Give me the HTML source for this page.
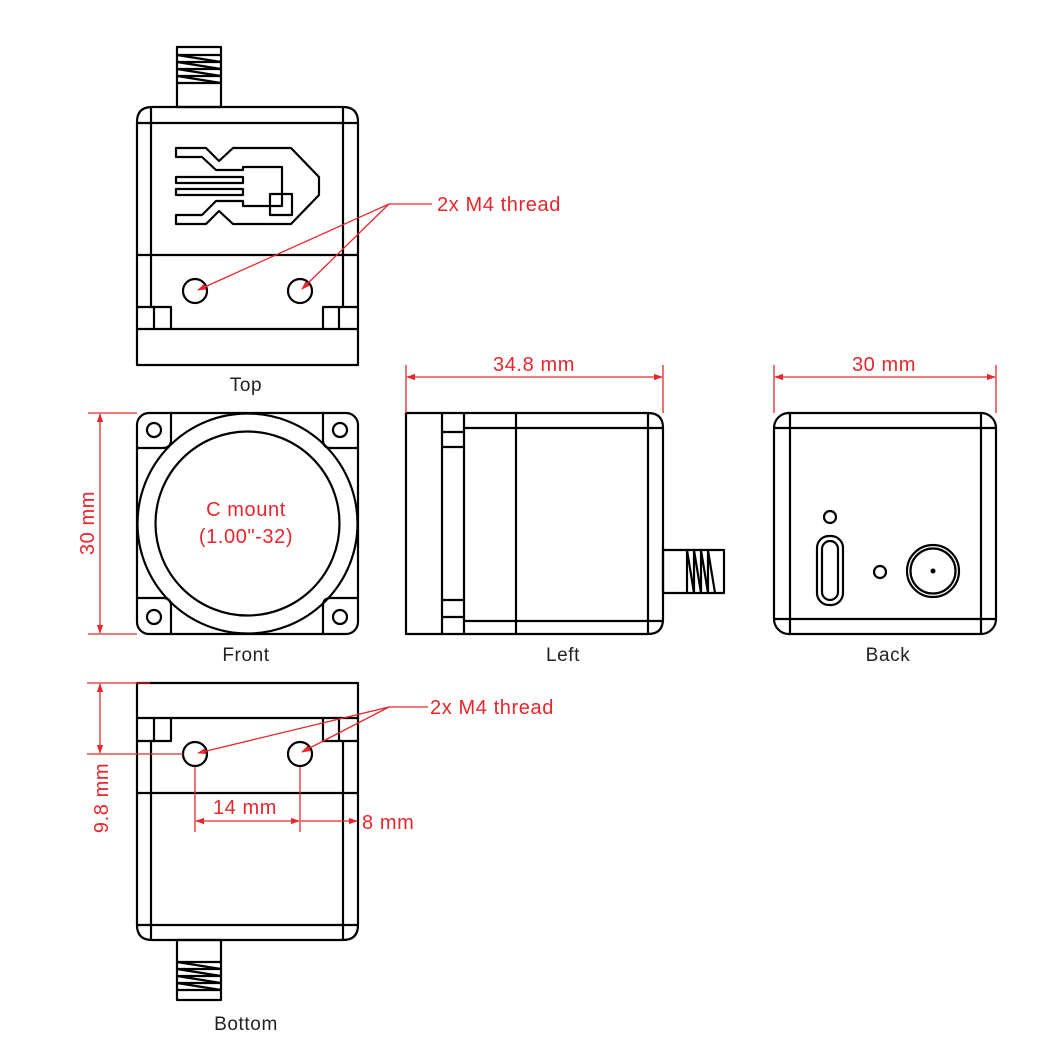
<!DOCTYPE html>
<html><head><meta charset="utf-8"><style>
html,body{margin:0;padding:0;background:#fff;}
svg{display:block}
text{font-family:"Liberation Sans","DejaVu Sans",sans-serif;letter-spacing:0.6px}
.k{fill:none;stroke:#000;stroke-width:2.2;stroke-linejoin:round}
.r{fill:none;stroke:#e8262b;stroke-width:1.3}
.rt{fill:#e8262b;font-size:20px}
.bt{fill:#222;font-size:19px}
</style></head><body>
<svg width="1054" height="1061" viewBox="0 0 1054 1061" xmlns="http://www.w3.org/2000/svg">
<defs>
<marker id="a" viewBox="0 0 10 10" refX="9" refY="5" markerWidth="9" markerHeight="9" markerUnits="userSpaceOnUse" orient="auto-start-reverse"><path d="M0,1.5 L10,5 L0,8.5 Z" fill="#e8262b"/></marker>
</defs>

<!-- TOP VIEW -->
<g class="k">
<rect x="177" y="47" width="44" height="60"/>
<line x1="177" y1="55" x2="221" y2="55"/>
<line x1="177" y1="83" x2="221" y2="83"/>
<path d="M177,55 L221,62 L177,62 L221,69 L177,69 L221,76 L177,76 L221,83"/>
<path d="M137,365 V122 Q137,107 152,107 H343 Q358,107 358,122 V365 Z"/>
<line x1="151" y1="107" x2="151" y2="307"/>
<line x1="343" y1="107" x2="343" y2="307"/>
<line x1="137" y1="123" x2="358" y2="123"/>
<line x1="137" y1="255" x2="358" y2="255"/>
<line x1="137" y1="329" x2="358" y2="329"/>
<path d="M137,307 H171 V329 M154,307 V329"/>
<path d="M358,307 H323 V329 M339,307 V329"/>
<circle cx="195" cy="291" r="12"/>
<circle cx="300" cy="291" r="12"/>
<path d="M176,148 H206 L219,161 L233,148 H291 L319,177 V195 L291,224 H233 L219,211 L206,224 H176 V215 H202 L216,201 H243 V206 H282 V167 H243 V170 H216 L202,157 H176 Z"/>
<rect x="270" y="194" width="22" height="21"/>
<rect x="176" y="177" width="67" height="6"/>
<rect x="176" y="189" width="67" height="6"/>
</g>
<g class="r">
<line x1="389" y1="204" x2="432" y2="204"/>
<line x1="389" y1="204" x2="198" y2="290" marker-end="url(#a)"/>
<line x1="389" y1="204" x2="302" y2="289" marker-end="url(#a)"/>
</g>
<text class="rt" x="437" y="211">2x M4 thread</text>
<text class="bt" x="246" y="391" text-anchor="middle">Top</text>

<!-- FRONT VIEW -->
<g class="k">
<rect x="137" y="413" width="221" height="221" rx="12"/>
<path d="M137,448 H163 Q171,448 171,440 V413"/>
<path d="M358,448 H331 Q323,448 323,440 V413"/>
<path d="M137,598 H163 Q171,598 171,606 V634"/>
<path d="M358,598 H331 Q323,598 323,606 V634"/>
<circle cx="154" cy="430" r="7"/>
<circle cx="340" cy="430" r="7"/>
<circle cx="154" cy="617" r="7"/>
<circle cx="340" cy="617" r="7"/>
<circle cx="247.5" cy="523.5" r="110"/>
<circle cx="247.5" cy="523.5" r="92"/>
</g>
<text class="rt" x="246" y="516" text-anchor="middle">C mount</text>
<text class="rt" x="246" y="543" text-anchor="middle">(1.00"-32)</text>
<g class="r">
<line x1="88" y1="413" x2="137" y2="413"/>
<line x1="88" y1="634" x2="137" y2="634"/>
<line x1="100" y1="414" x2="100" y2="633" marker-start="url(#a)" marker-end="url(#a)"/>
</g>
<text class="rt" x="0" y="0" text-anchor="middle" transform="translate(94,523) rotate(-90)">30 mm</text>
<text class="bt" x="246" y="661" text-anchor="middle">Front</text>

<!-- LEFT VIEW -->
<g class="k">
<path d="M406,413 H648 Q663,413 663,428 V619 Q663,634 648,634 H406 Z"/>
<line x1="442" y1="413" x2="442" y2="634"/>
<line x1="464" y1="447" x2="464" y2="600"/>
<line x1="516" y1="413" x2="516" y2="634"/>
<line x1="648" y1="413" x2="648" y2="634"/>
<line x1="464" y1="428" x2="663" y2="428"/>
<line x1="464" y1="621" x2="663" y2="621"/>
<path d="M442,432 H464 V413 M464,432 V447 H442"/>
<path d="M442,617 H464 V634 M464,617 V600 H442"/>
<rect x="663" y="550" width="61" height="43"/>
<line x1="687" y1="550" x2="687" y2="593"/>
<path d="M687,550 L694,593 L694,550 L701,593 L701,550 L708,593 L708,550 L715,593"/>
</g>
<g class="r">
<line x1="406" y1="365" x2="406" y2="413"/>
<line x1="663" y1="365" x2="663" y2="413"/>
<line x1="407" y1="377" x2="662" y2="377" marker-start="url(#a)" marker-end="url(#a)"/>
</g>
<text class="rt" x="534" y="371" text-anchor="middle">34.8 mm</text>
<text class="bt" x="563" y="661" text-anchor="middle">Left</text>

<!-- BACK VIEW -->
<g class="k">
<rect x="774" y="413" width="222" height="221" rx="15"/>
<line x1="790" y1="413" x2="790" y2="634"/>
<line x1="981" y1="413" x2="981" y2="634"/>
<line x1="774" y1="428" x2="996" y2="428"/>
<line x1="774" y1="619" x2="996" y2="619"/>
<circle cx="830" cy="517" r="6"/>
<rect x="817" y="536" width="26" height="69" rx="12"/>
<rect x="822" y="541" width="16" height="59" rx="8"/>
<circle cx="880" cy="572" r="6"/>
<circle cx="933" cy="571" r="26"/>
<circle cx="933" cy="571" r="22.5"/>
</g>
<circle cx="933" cy="571" r="2.5" fill="#000"/>
<g class="r">
<line x1="774" y1="365" x2="774" y2="413"/>
<line x1="996" y1="365" x2="996" y2="413"/>
<line x1="775" y1="377" x2="995" y2="377" marker-start="url(#a)" marker-end="url(#a)"/>
</g>
<text class="rt" x="884" y="371" text-anchor="middle">30 mm</text>
<text class="bt" x="888" y="661" text-anchor="middle">Back</text>

<!-- BOTTOM VIEW -->
<g class="k">
<path d="M137,683 H358 V925 Q358,940 343,940 H152 Q137,940 137,925 Z"/>
<line x1="137" y1="718" x2="358" y2="718"/>
<path d="M137,741 H171 V718 M154,718 V741"/>
<path d="M358,741 H323 V718 M339,718 V741"/>
<line x1="151" y1="741" x2="151" y2="940"/>
<line x1="343" y1="741" x2="343" y2="940"/>
<line x1="137" y1="793" x2="358" y2="793"/>
<line x1="137" y1="925" x2="358" y2="925"/>
<circle cx="195" cy="754" r="12"/>
<circle cx="300" cy="754" r="12"/>
<rect x="177" y="940" width="44" height="60"/>
<line x1="177" y1="962" x2="221" y2="962"/>
<line x1="177" y1="990" x2="221" y2="990"/>
<path d="M177,962 L221,969 L177,969 L221,976 L177,976 L221,983 L177,983 L221,990"/>
</g>
<g class="r">
<line x1="87" y1="683" x2="150" y2="683"/>
<line x1="87" y1="754" x2="183" y2="754"/>
<line x1="100" y1="684" x2="100" y2="753" marker-start="url(#a)" marker-end="url(#a)"/>
<line x1="195" y1="767" x2="195" y2="832"/>
<line x1="300" y1="767" x2="300" y2="832"/>
<line x1="196" y1="821" x2="299" y2="821" marker-start="url(#a)" marker-end="url(#a)"/>
<line x1="301" y1="821" x2="357" y2="821" marker-end="url(#a)"/>
<line x1="389" y1="707" x2="428" y2="707"/>
<line x1="389" y1="707" x2="198" y2="753" marker-end="url(#a)"/>
<line x1="389" y1="707" x2="302" y2="752" marker-end="url(#a)"/>
</g>
<text class="rt" x="0" y="0" text-anchor="middle" transform="translate(108,798) rotate(-90)">9.8 mm</text>
<text class="rt" x="245" y="814" text-anchor="middle">14 mm</text>
<text class="rt" x="362" y="829">8 mm</text>
<text class="rt" x="430" y="714">2x M4 thread</text>
<text class="bt" x="246" y="1030" text-anchor="middle">Bottom</text>
</svg>
</body></html>
